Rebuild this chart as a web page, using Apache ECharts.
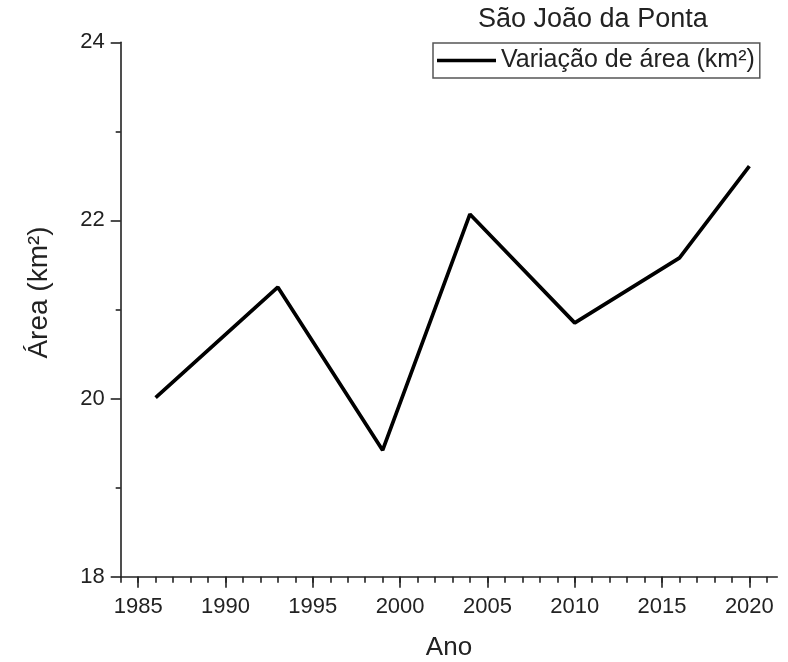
<!DOCTYPE html>
<html>
<head>
<meta charset="utf-8">
<script src="https://cdn.jsdelivr.net/npm/echarts@6/dist/echarts.min.js"></script>
<style>html,body{margin:0;padding:0;background:#fff;}#c{width:788px;height:662px;}</style>
</head>
<body>
<div id="c"></div>
<script>
const titleText = 'São João da Ponta';
const seriesName = 'Variação de área (km²)';
const years = [1986, 1993, 1999, 2004, 2010, 2016, 2020];
const area = [20.01, 21.25, 19.42, 22.07, 20.85, 21.58, 22.61];
const xMajorTicks = [1985, 1990, 1995, 2000, 2005, 2010, 2015, 2020];
const xMinorTicks = [1984,1985,1986,1987,1988,1989,1990,1991,1992,1993,1994,1995,1996,1997,1998,1999,2000,2001,2002,2003,2004,2005,2006,2007,2008,2009,2010,2011,2012,2013,2014,2015,2016,2017,2018,2019,2020,2021];
const yTicks = [18, 20, 22, 24];

const FONT = '"Liberation Sans", Arial, sans-serif';
const AX = '#222';
const chart = echarts.init(document.getElementById('c'), null, {renderer: 'canvas'});
chart.setOption({
  animation: false,
  backgroundColor: '#fff',
  title: {
    text: titleText,
    left: 473, top: 1, padding: [5, 5],
    textStyle: {fontFamily: FONT, fontSize: 27, fontWeight: 'normal', color: '#222'}
  },
  legend: {
    left: 433, top: 43,
    padding: [5, 5, 5, 4],
    borderColor: '#555', borderWidth: 1.5,
    icon: 'rect',
    itemWidth: 59, itemHeight: 3.5,
    itemStyle: {color: '#000'},
    textStyle: {fontFamily: FONT, fontSize: 25, color: '#222'},
    data: [seriesName]
  },
  grid: {left: 120.7, right: 10.7, top: 42.3, bottom: 85.3, containLabel: false, outerBoundsMode: 'none'},
  xAxis: [{
    type: 'value', min: 1984, max: 2021.6, position: 'bottom',
    name: 'Ano', nameLocation: 'middle', nameGap: 58,
    nameTextStyle: {fontFamily: FONT, fontSize: 26, color: '#222'},
    axisLine: {show: true, onZero: false, lineStyle: {color: AX, width: 1.6}},
    axisTick: {show: true, customValues: xMajorTicks, length: 11, lineStyle: {color: AX, width: 1.6}},
    axisLabel: {show: true, customValues: xMajorTicks, margin: 19, fontFamily: FONT, fontSize: 22, color: '#222',
      formatter: v => String(v)},
    splitLine: {show: false}, minorTick: {show: false}
  }, {
    type: 'value', min: 1984, max: 2021.6, position: 'bottom', offset: 0,
    axisLine: {show: false},
    axisTick: {show: true, customValues: xMinorTicks, length: 6, lineStyle: {color: AX, width: 1.6}},
    axisLabel: {show: false},
    splitLine: {show: false}
  }],
  yAxis: {
    type: 'value', min: 18, max: 24, interval: 2,
    name: 'Área (km²)', nameLocation: 'middle', nameGap: 67, nameRotate: 90,
    nameTextStyle: {fontFamily: FONT, fontSize: 28, color: '#222', padding: [0, 0, 0, 34]},
    axisLine: {show: true, onZero: false, lineStyle: {color: AX, width: 1.6}},
    axisTick: {show: true, length: 10, lineStyle: {color: AX, width: 1.6}},
    minorTick: {show: true, splitNumber: 2, length: 5, lineStyle: {color: AX, width: 1.6}},
    axisLabel: {margin: 16, fontFamily: FONT, fontSize: 22, color: '#222',
      customValues: yTicks, formatter: v => String(v)},
    splitLine: {show: false}
  },
  series: [{
    name: seriesName,
    type: 'line',
    xAxisIndex: 0,
    data: years.map((y, i) => [y, area[i]]),
    symbol: 'none',
    lineStyle: {color: '#000', width: 3.7},
    itemStyle: {color: '#000'}
  }]
});
</script>
</body>
</html>
